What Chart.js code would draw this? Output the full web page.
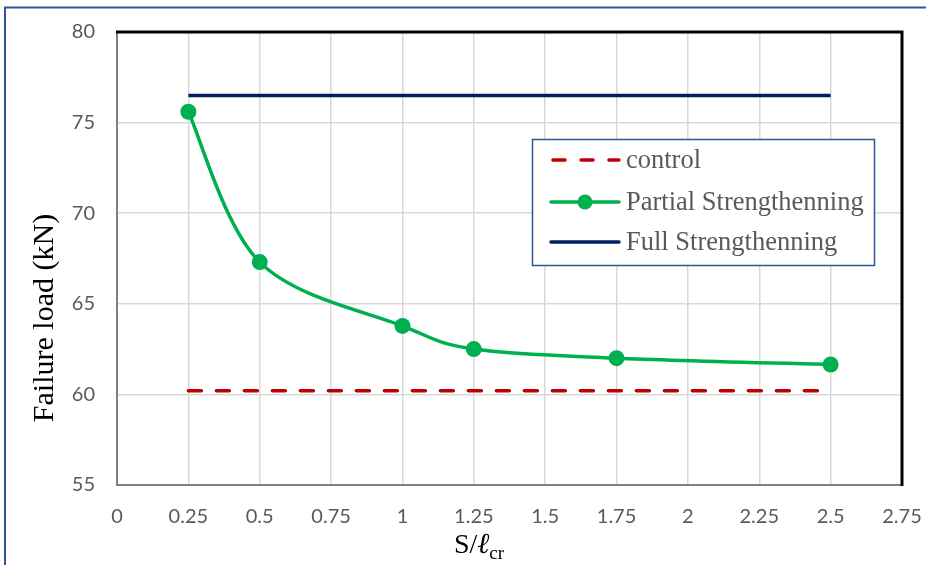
<!DOCTYPE html>
<html>
<head>
<meta charset="utf-8">
<script src="https://cdn.jsdelivr.net/npm/chart.js@4/dist/chart.umd.min.js"></script>
<style>
  html, body { margin: 0; padding: 0; background: #ffffff; }
  #wrap { width: 926px; height: 565px; position: relative; }
</style>
</head>
<body>
<div id="wrap"><canvas id="c" width="926" height="565"></canvas></div>
<script>
// Spacing ratio S/ℓcr and measured failure loads (kN)
const spacing = [0.25, 0.5, 1, 1.25, 1.75, 2.5];
const partialLoad = [75.6, 67.3, 63.78, 62.5, 62.0, 61.65];
const controlX = [0.25, 2.5];
const controlLoad = [60.2, 60.2];
const fullX = [0.25, 2.5];
const fullLoad = [76.5, 76.5];
const seriesNames = ['control', 'Partial Strengthenning', 'Full Strengthenning'];
const xTicks = [0, 0.25, 0.5, 0.75, 1, 1.25, 1.5, 1.75, 2, 2.25, 2.5, 2.75];
const yTicks = [55, 60, 65, 70, 75, 80];

const RED = '#C00000', GREEN = '#00B050', NAVY = '#002060';
const toPts = (xs, ys) => xs.map((x, i) => ({ x: x, y: ys[i] }));

// Uniform Catmull-Rom style control points (neighbour chord / 6) for smoothed series
const smoothCurve = {
  id: 'smoothCurve',
  beforeDatasetsDraw(chart, args, opts) {
    (opts.datasets || []).forEach((i) => {
      const meta = chart.getDatasetMeta(i);
      const line = meta.dataset;
      if (line && line.updateControlPoints) line.updateControlPoints(chart.chartArea, 'x');
      const pts = meta.data;
      const n = pts.length;
      for (let k = 0; k < n; k++) {
        const prev = pts[Math.max(k - 1, 0)];
        const next = pts[Math.min(k + 1, n - 1)];
        const tx = (next.x - prev.x) / 6;
        const ty = (next.y - prev.y) / 6;
        pts[k].cp1x = pts[k].x - tx; pts[k].cp1y = pts[k].y - ty;
        pts[k].cp2x = pts[k].x + tx; pts[k].cp2y = pts[k].y + ty;
      }
    });
  }
};

// Frame, outer border, axis titles and legend box
const decor = {
  id: 'decor',
  beforeDraw(chart) {
    const ctx = chart.ctx;
    ctx.save();
    ctx.fillStyle = '#ffffff';
    ctx.fillRect(0, 0, chart.width, chart.height);
    ctx.strokeStyle = '#2F5597';
    ctx.lineWidth = 2;
    ctx.strokeRect(5, 7.5, chart.width + 20, chart.height + 20);
    ctx.restore();
  },
  afterDatasetsDraw(chart) {
    const ctx = chart.ctx;
    const a = chart.chartArea;
    ctx.save();
    // plot frame: grey left/bottom, black top/right
    ctx.lineWidth = 2;
    ctx.strokeStyle = '#808080';
    ctx.beginPath();
    ctx.moveTo(a.left, a.top); ctx.lineTo(a.left, a.bottom); ctx.lineTo(a.right, a.bottom);
    ctx.stroke();
    ctx.lineWidth = 3;
    ctx.strokeStyle = '#000000';
    ctx.beginPath();
    ctx.moveTo(a.left - 1, a.top); ctx.lineTo(a.right, a.top); ctx.lineTo(a.right, a.bottom + 1);
    ctx.stroke();

    // y axis title
    ctx.fillStyle = '#000000';
    ctx.font = '30px "Liberation Serif", serif';
    ctx.textAlign = 'center';
    ctx.textBaseline = 'middle';
    ctx.translate(45, 318);
    ctx.rotate(-Math.PI / 2);
    ctx.fillText('Failure load (kN)', 0, 0);
    ctx.setTransform(1, 0, 0, 1, 0, 0);

    // x axis title S/ℓcr
    ctx.textAlign = 'left';
    ctx.textBaseline = 'alphabetic';
    const main = 'S/';
    const ell = 'ℓ';
    const sub = 'cr';
    ctx.font = '28px "Liberation Serif", serif';
    const w1 = ctx.measureText(main).width;
    ctx.font = 'italic 29px "DejaVu Serif", serif';
    const w2 = ctx.measureText(ell).width;
    ctx.font = '19px "Liberation Serif", serif';
    const w3 = ctx.measureText(sub).width;
    let x0 = 479 - (w1 + w2 + w3) / 2;
    const base = 553;
    ctx.font = '28px "Liberation Serif", serif';
    ctx.fillText(main, x0, base);
    ctx.font = 'italic 29px "DejaVu Serif", serif';
    ctx.fillText(ell, x0 + w1, base);
    ctx.font = '19px "Liberation Serif", serif';
    ctx.fillText(sub, x0 + w1 + w2, base + 6);

    // legend box
    const lx = 532.5, ly = 139.5, lw = 342, lh = 126;
    ctx.fillStyle = '#ffffff';
    ctx.fillRect(lx, ly, lw, lh);
    ctx.strokeStyle = '#2F5597';
    ctx.lineWidth = 1.5;
    ctx.strokeRect(lx, ly, lw, lh);
    const rows = [160, 202, 242];
    const s0 = 551, s1 = 619;
    ctx.lineCap = 'round';
    // control
    ctx.strokeStyle = RED; ctx.lineWidth = 3.5; ctx.setLineDash([12, 16]);
    ctx.beginPath(); ctx.moveTo(s0 + 2, rows[0]); ctx.lineTo(s1, rows[0]); ctx.stroke();
    ctx.setLineDash([]);
    // partial
    ctx.strokeStyle = GREEN; ctx.lineWidth = 3.5;
    ctx.beginPath(); ctx.moveTo(s0, rows[1]); ctx.lineTo(s1, rows[1]); ctx.stroke();
    ctx.fillStyle = GREEN;
    ctx.beginPath(); ctx.arc((s0 + s1) / 2, rows[1], 7.5, 0, Math.PI * 2); ctx.fill();
    // full
    ctx.strokeStyle = NAVY; ctx.lineWidth = 3.5;
    ctx.beginPath(); ctx.moveTo(s0, rows[2]); ctx.lineTo(s1, rows[2]); ctx.stroke();
    ctx.fillStyle = '#595959';
    ctx.font = '26.5px "Liberation Serif", serif';
    ctx.textBaseline = 'middle';
    seriesNames.forEach((n, i) => ctx.fillText(n, 626, rows[i] + 1));
    ctx.restore();
  }
};

new Chart(document.getElementById('c'), {
  type: 'scatter',
  data: {
    datasets: [
      {
        label: seriesNames[0], data: toPts(controlX, controlLoad), showLine: true,
        borderColor: RED, borderWidth: 3.5, borderDash: [13, 15], borderCapStyle: 'round',
        pointRadius: 0, fill: false
      },
      {
        label: seriesNames[1], data: toPts(spacing, partialLoad), showLine: true,
        borderColor: GREEN, backgroundColor: GREEN, borderWidth: 3.5, tension: 0.4,
        pointRadius: 8, pointBackgroundColor: GREEN, pointBorderWidth: 0, fill: false
      },
      {
        label: seriesNames[2], data: toPts(fullX, fullLoad), showLine: true,
        borderColor: NAVY, borderWidth: 3.5, pointRadius: 0, fill: false
      }
    ]
  },
  options: {
    responsive: false,
    animation: false,
    layout: { padding: { left: 0, right: 24, top: 32, bottom: 0 } },
    plugins: {
      legend: { display: false },
      tooltip: { enabled: false },
      smoothCurve: { datasets: [1] }
    },
    scales: {
      x: {
        type: 'linear', min: 0, max: 2.75,
        afterBuildTicks: (s) => { s.ticks = xTicks.map(v => ({ value: v })); },
        afterFit: (s) => { s.height = 80; s.paddingLeft = 0; s.paddingRight = 0; },
        grid: { color: '#d9d9d9', lineWidth: 1.5, drawTicks: false },
        border: { display: false },
        ticks: {
          padding: 20, color: '#595959', maxRotation: 0, autoSkip: false,
          font: { family: 'Lato, "Liberation Sans", sans-serif', size: 20 },
          callback: (v) => String(v)
        }
      },
      y: {
        type: 'linear', min: 55, max: 80,
        afterBuildTicks: (s) => { s.ticks = yTicks.map(v => ({ value: v })); },
        afterFit: (s) => { s.width = 117; s.paddingTop = 0; s.paddingBottom = 0; },
        grid: { color: '#d9d9d9', lineWidth: 1.5, drawTicks: false },
        border: { display: false },
        ticks: {
          padding: 22, color: '#595959',
          font: { family: 'Lato, "Liberation Sans", sans-serif', size: 20 },
          callback: (v) => String(v)
        }
      }
    }
  },
  plugins: [smoothCurve, decor]
});
</script>
</body>
</html>
